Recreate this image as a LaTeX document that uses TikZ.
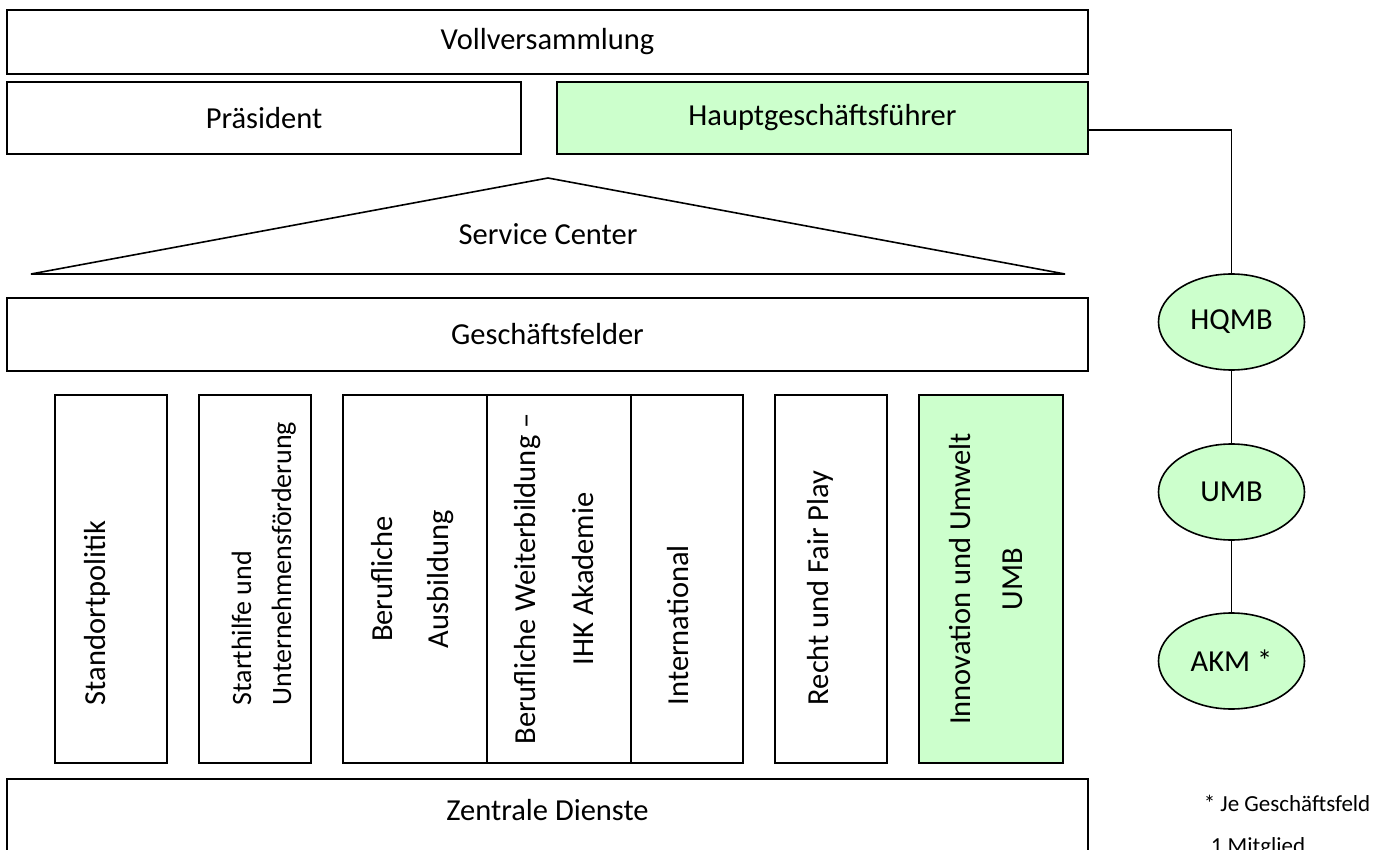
\documentclass[tikz,border=0pt]{standalone}
\usepackage{fontspec}
\setmainfont{Carlito}
\usepackage{tikz}
\usetikzlibrary{shapes.geometric}

\definecolor{hellgruen}{HTML}{CCFFCC}
\def\schrift{\fontsize{30.5}{36.6}\selectfont}

\begin{document}
\begin{tikzpicture}
[x=1pt,y=-1pt,line width=1.6pt,
box/.style={draw,rectangle,inner sep=0pt,font=\schrift},
saeule/.style={box,minimum width=112pt,minimum height=368pt},
breit/.style={saeule,minimum width=144pt},
vtext/.style={rotate=90,inner sep=0pt,font=\schrift},
oval/.style={draw,ellipse,fill=hellgruen,minimum width=146pt,minimum height=96pt,inner sep=0pt,font=\schrift},
linie/.style={line width=1.3pt},]

\useasboundingbox (0,0) rectangle (1385,850);
\clip (0,0) rectangle (1385,850);

%Top boxes
\node[box,minimum width=1081pt,minimum height=64pt] (voll) at (547.5,42) {Vollversammlung};
\node[box,minimum width=514pt,minimum height=72pt] (praes) at (264,118) {Präsident};
\node[box,fill=hellgruen,minimum width=531pt,minimum height=72pt] (hgf) at (822.5,118) {Hauptgeschäftsführer};

%Roof
\coordinate (spitze) at (548,178);
\coordinate (links) at (31,274);
\coordinate (rechts) at (1065,274);
\draw (links) -- (spitze) -- (rechts) -- cycle;
\node[font=\schrift] (sc) at (548,234) {Service Center};

\node[box,minimum width=1081pt,minimum height=73pt] (gf) at (547.5,334.5) {Geschäftsfelder};

%Columns
\node[saeule] (stand) at (111,579) {};
\node[saeule] (start) at (255,579) {};
\node[breit] (beraus) at (415,579) {};
\node[breit] (berweit) at (559,579) {};
\node[saeule] (intl) at (687,579) {};
\node[saeule] (recht) at (831,579) {};
\node[breit,fill=hellgruen] (innov) at (991,579) {};

%Column labels
\node[vtext,anchor=north west] (standtxt) at (84,706) {Standortpolitik};
\node[vtext,anchor=north west,align=left,font=\fontsize{28}{34}\selectfont] (starttxt) at (231,706) {Starthilfe und\\[6pt]Unternehmensförderung};
\node[vtext,anchor=north,align=center] (beraustxt) at (371,579) {Berufliche\\[19.4pt]Ausbildung};
\node[vtext,anchor=north,align=center] (berweittxt) at (514,579) {Berufliche Weiterbildung –\\[21.4pt]IHK Akademie};
\node[vtext,anchor=north west] (intltxt) at (667,706) {International};
\node[vtext,anchor=north west] (rechttxt) at (807,706) {Recht und Fair Play};
\node[vtext,anchor=north,align=center] (innovtxt) at (949,579) {Innovation und Umwelt\\[15.4pt]UMB};

%Base
\node[box,minimum width=1081pt,minimum height=130pt,anchor=north] (zd) at (547.5,778) {};
\node[font=\schrift] (zdtxt) at (547.5,810) {Zentrale Dienste};

%Management chain
\node[oval] (hqmb) at (1231.5,322) {HQMB};
\node[oval] (umb) at (1231.5,492) {UMB};
\node[oval] (akm) at (1231.5,661) {AKM *};
\coordinate (knick) at (1231.5,130);

\draw[linie] (hgf.east |- knick) -- (knick) -- (hqmb.north);
\draw[linie] (hqmb) -- (umb);
\draw[linie] (umb) -- (akm);

%Footnote
\node[anchor=north west,align=left,inner sep=0pt,font=\fontsize{23}{42}\selectfont] (fuss) at (1203,794) {* Je Geschäftsfeld\\\hspace*{7pt}1 Mitglied};

\end{tikzpicture}
\end{document}
